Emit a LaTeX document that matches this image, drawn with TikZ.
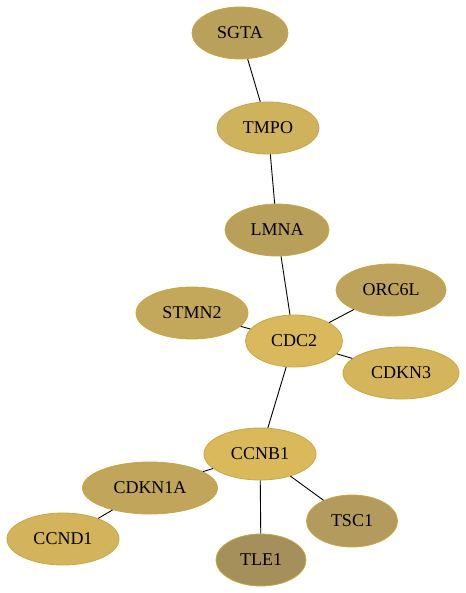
\documentclass[tikz,border=0pt]{standalone}
\usepackage{fontspec}
\setmainfont{Liberation Serif}
\usetikzlibrary{shapes.geometric}

\definecolor{rim}{HTML}{C9A641}
\definecolor{cSGTA}{HTML}{B9A15B}
\definecolor{cTMPO}{HTML}{CFB25C}
\definecolor{cLMNA}{HTML}{B8A05B}
\definecolor{cORC}{HTML}{BDA35B}
\definecolor{cSTMN}{HTML}{C3A85B}
\definecolor{cCDC}{HTML}{D9B95B}
\definecolor{cCDKN}{HTML}{D5B55B}
\definecolor{cCCNB}{HTML}{DAB95A}
\definecolor{cCDKNA}{HTML}{C0A55B}
\definecolor{cTSC}{HTML}{B29B5C}
\definecolor{cCCND}{HTML}{D3B45C}
\definecolor{cTLE}{HTML}{A58F5A}

\tikzset{
  gene/.style={ellipse, draw=rim, line width=0.8pt, inner sep=0pt,
    minimum height=52pt, font=\fontsize{18}{21}\selectfont},
  link/.style={line width=0.9pt, black}
}

\begin{document}
\begin{tikzpicture}[x=1pt, y=-1pt]
    \useasboundingbox (0,0) rectangle (465,593);

    \node[gene, fill=cSGTA, minimum width=96pt]  (sgta)   at (240,33)  {SGTA};
    \node[gene, fill=cTMPO, minimum width=102pt] (tmpo)   at (268,128) {TMPO};
    \node[gene, fill=cLMNA, minimum width=104pt] (lmna)   at (277,230) {LMNA};
    \node[gene, fill=cORC, minimum width=110pt]  (orc)    at (391,290) {ORC6L};
    \node[gene, fill=cSTMN, minimum width=112pt] (stmn)   at (192,313) {STMN2};
    \node[gene, fill=cCDC, minimum width=97pt]   (cdc)    at (294,341) {CDC2};
    \node[gene, fill=cCDKN, minimum width=116pt] (cdkn)   at (401,373) {CDKN3};
    \node[gene, fill=cCCNB, minimum width=112pt] (ccnb)   at (260,454) {CCNB1};
    \node[gene, fill=cCDKNA, minimum width=135pt] (cdkna) at (150,488) {CDKN1A};
    \node[gene, fill=cTSC, minimum width=91pt]   (tsc)    at (352,521) {TSC1};
    \node[gene, fill=cCCND, minimum width=112pt] (ccnd)   at (63,539)  {CCND1};
    \node[gene, fill=cTLE, minimum width=90pt]   (tle)    at (261,560) {TLE1};

    \draw[link] (sgta) -- (tmpo);
    \draw[link] (tmpo) -- (lmna);
    \draw[link] (lmna) -- (cdc);
    \draw[link] (cdc) -- (stmn);
    \draw[link] (cdc) -- (orc);
    \draw[link] (cdc) -- (cdkn);
    \draw[link] (cdc) -- (ccnb);
    \draw[link] (ccnb) -- (cdkna);
    \draw[link] (ccnb) -- (tle);
    \draw[link] (ccnb) -- (tsc);
    \draw[link] (cdkna) -- (ccnd);
\end{tikzpicture}
\end{document}
